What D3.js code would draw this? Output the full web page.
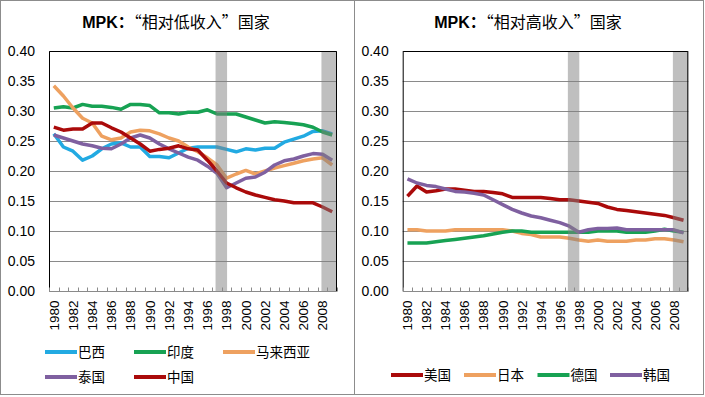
<!DOCTYPE html>
<html>
<head>
<meta charset="utf-8">
<script src="https://cdn.jsdelivr.net/npm/d3@7"></script>
<style>
  body { margin: 0; background: #fff; }
  svg text { font-family: "Liberation Sans", Arial, "Noto Sans CJK SC", sans-serif; fill: #000; }
</style>
</head>
<body>
<div id="chart"></div>
<script>
var years = d3.range(1980, 2010);
var yTicks = [0, 0.05, 0.10, 0.15, 0.20, 0.25, 0.30, 0.35, 0.40];
// shaded crisis periods, in fractional years
var bands = [[1996.85, 1998.05], [2007.88, 2009.5]];

// "相对低收入" countries
var brazil   = [0.262,0.240,0.233,0.218,0.225,0.237,0.245,0.247,0.240,0.240,0.224,0.224,0.222,0.230,0.238,0.240,0.240,0.240,0.236,0.232,0.237,0.235,0.238,0.238,0.248,0.253,0.258,0.266,0.267,0.262];
var india    = [0.305,0.307,0.305,0.311,0.308,0.308,0.306,0.303,0.311,0.311,0.309,0.297,0.297,0.295,0.298,0.298,0.302,0.295,0.295,0.295,0.290,0.285,0.280,0.282,0.281,0.279,0.277,0.273,0.265,0.260];
var malaysia = [0.342,0.325,0.305,0.288,0.280,0.258,0.252,0.255,0.265,0.268,0.267,0.262,0.255,0.250,0.240,0.232,0.222,0.210,0.188,0.195,0.201,0.195,0.200,0.205,0.209,0.213,0.217,0.220,0.222,0.210];
var thailand = [0.260,0.255,0.250,0.245,0.242,0.238,0.237,0.245,0.255,0.260,0.255,0.245,0.237,0.230,0.223,0.218,0.208,0.196,0.172,0.180,0.188,0.190,0.198,0.210,0.217,0.220,0.225,0.229,0.228,0.218];
var china    = [0.273,0.268,0.270,0.270,0.280,0.280,0.272,0.265,0.255,0.245,0.233,0.236,0.238,0.242,0.237,0.235,0.218,0.200,0.180,0.172,0.165,0.160,0.156,0.152,0.150,0.147,0.147,0.147,0.140,0.132];

// "相对高收入" countries
var usa      = [0.158,0.175,0.165,0.167,0.170,0.170,0.168,0.166,0.166,0.164,0.162,0.156,0.156,0.156,0.156,0.154,0.152,0.152,0.150,0.148,0.146,0.140,0.136,0.134,0.132,0.130,0.128,0.126,0.122,0.118];
var japan    = [0.102,0.102,0.100,0.100,0.100,0.102,0.102,0.102,0.102,0.102,0.102,0.100,0.096,0.094,0.090,0.090,0.090,0.088,0.085,0.083,0.085,0.083,0.083,0.083,0.085,0.085,0.087,0.087,0.085,0.082];
var germany  = [0.080,0.080,0.080,0.082,0.084,0.086,0.088,0.090,0.092,0.095,0.098,0.100,0.100,0.098,0.098,0.098,0.098,0.098,0.098,0.098,0.100,0.100,0.100,0.098,0.098,0.098,0.100,0.103,0.100,0.098];
var korea    = [0.187,0.180,0.176,0.174,0.170,0.166,0.165,0.163,0.160,0.152,0.144,0.136,0.130,0.125,0.122,0.118,0.114,0.108,0.098,0.102,0.104,0.104,0.105,0.102,0.102,0.102,0.102,0.102,0.102,0.097];

var lowSeries = [
  {name: "巴西", values: brazil, color: "#22aae2"},
  {name: "印度", values: india, color: "#17a253"},
  {name: "马来西亚", values: malaysia, color: "#eea160"},
  {name: "泰国", values: thailand, color: "#7f60a0"},
  {name: "中国", values: china, color: "#aa0a0a"}
];
var highSeries = [
  {name: "美国", values: usa, color: "#aa0a0a"},
  {name: "日本", values: japan, color: "#eea160"},
  {name: "德国", values: germany, color: "#17a253"},
  {name: "韩国", values: korea, color: "#7f60a0"}
];

var W = 705, H = 397;
var svg = d3.select("#chart").append("svg")
  .attr("width", W).attr("height", H);

// outer frames
svg.append("rect").attr("x", 0.5).attr("y", 0.5).attr("width", W - 2).attr("height", 394)
  .attr("fill", "none").attr("stroke", "#8c8c8c");
svg.append("line").attr("x1", 354.5).attr("x2", 354.5).attr("y1", 0).attr("y2", 395)
  .attr("stroke", "#8c8c8c");

function drawPanel(cfg) {
  var top = 51, bottom = 291;
  var g = svg.append("g");

  var x = d3.scaleBand().domain(years).range([cfg.left, cfg.right]);
  var step = x.step();
  var xc = function(yr) { return x(yr) + step / 2; };
  var xYear = d3.scaleLinear()
    .domain([1979.5, 2009.5]).range([cfg.left, cfg.right]);
  var y = d3.scaleLinear().domain([0, 0.40]).range([bottom, top]);

  // title
  var t = g.append("text")
    .attr("x", cfg.titleX).attr("y", 28)
    .attr("text-anchor", "middle")
    .style("font-size", "16px");
  t.append("tspan").attr("font-weight", "bold").text("MPK：");
  t.append("tspan").style("font-family", "'Noto Sans CJK SC', sans-serif")
    .text(cfg.title);

  // gridlines
  g.selectAll(".grid").data(yTicks.slice(1)).enter().append("line")
    .attr("x1", cfg.left).attr("x2", cfg.right)
    .attr("y1", function(d) { return Math.round(y(d)) + 0.5; })
    .attr("y2", function(d) { return Math.round(y(d)) + 0.5; })
    .attr("stroke", "#8a8a8a").attr("stroke-width", 1);

  // y labels
  g.selectAll(".ylab").data(yTicks).enter().append("text")
    .attr("x", cfg.left - 14).attr("y", function(d) { return y(d); })
    .attr("dy", "0.35em").attr("text-anchor", "end")
    .style("font-size", "14px")
    .text(d3.format(".2f"));

  // lines
  var line = d3.line()
    .x(function(d, i) { return xc(years[i]); })
    .y(function(d) { return y(d); });
  g.selectAll(".series").data(cfg.series).enter().append("path")
    .attr("d", function(s) { return line(s.values); })
    .attr("fill", "none")
    .attr("stroke", function(s) { return s.color; })
    .attr("stroke-width", 3.5)
    .attr("stroke-linejoin", "round");

  // crisis bands
  g.selectAll(".band").data(bands).enter().append("rect")
    .attr("x", function(d) { return xYear(d[0]); })
    .attr("width", function(d) { return xYear(d[1]) - xYear(d[0]); })
    .attr("y", top).attr("height", bottom - top)
    .attr("fill", "#7f7f7f").attr("opacity", 0.5);

  // plot frame
  g.append("path")
    .attr("d", "M" + (cfg.left + 0.5) + "," + bottom + "V" + (top + 0.5) +
      "H" + (cfg.right - 0.5) + "V" + bottom)
    .attr("fill", "none").attr("stroke", "#000");

  // x axis
  var ax = g.append("g")
    .attr("transform", "translate(0," + (bottom + 0.5) + ")");
  ax.append("line").attr("x1", cfg.left).attr("x2", cfg.right)
    .attr("stroke", "#8a8a8a");
  ax.selectAll(".tick").data(d3.range(0, years.length + 1)).enter().append("line")
    .attr("x1", function(i) { return Math.round(cfg.left + i * step) + 0.5; })
    .attr("x2", function(i) { return Math.round(cfg.left + i * step) + 0.5; })
    .attr("y1", 0).attr("y2", -4)
    .attr("stroke", "#8a8a8a");
  ax.selectAll(".xlab").data(years.filter(function(d) { return d % 2 === 0; }))
    .enter().append("text")
    .attr("transform", function(d) { return "translate(" + xc(d) + ",9) rotate(-90)"; })
    .attr("dy", "0.36em")
    .attr("text-anchor", "end")
    .style("font-size", "13.5px")
    .text(function(d) { return d; });

  // legend
  var lg = g.selectAll(".leg").data(cfg.series).enter().append("g")
    .attr("transform", function(d, i) {
      return "translate(" + cfg.legend[i][0] + "," + cfg.legend[i][1] + ")";
    });
  lg.append("line").attr("x1", 0).attr("x2", 32)
    .attr("stroke", function(d) { return d.color; })
    .attr("stroke-width", 4);
  lg.append("text").attr("x", 33).attr("dy", "0.36em")
    .style("font-size", "13.5px")
    .text(function(d) { return d.name; });
}

drawPanel({
  left: 49, right: 337, titleX: 176, title: "“相对低收入”国家",
  series: lowSeries,
  legend: [[45, 352], [134, 352], [223, 352], [45, 377], [134, 377]]
});
drawPanel({
  left: 402.7, right: 688.3, titleX: 528, title: "“相对高收入”国家",
  series: highSeries,
  legend: [[391, 375], [464, 375], [537.5, 375], [610, 375]]
});
</script>
</body>
</html>
